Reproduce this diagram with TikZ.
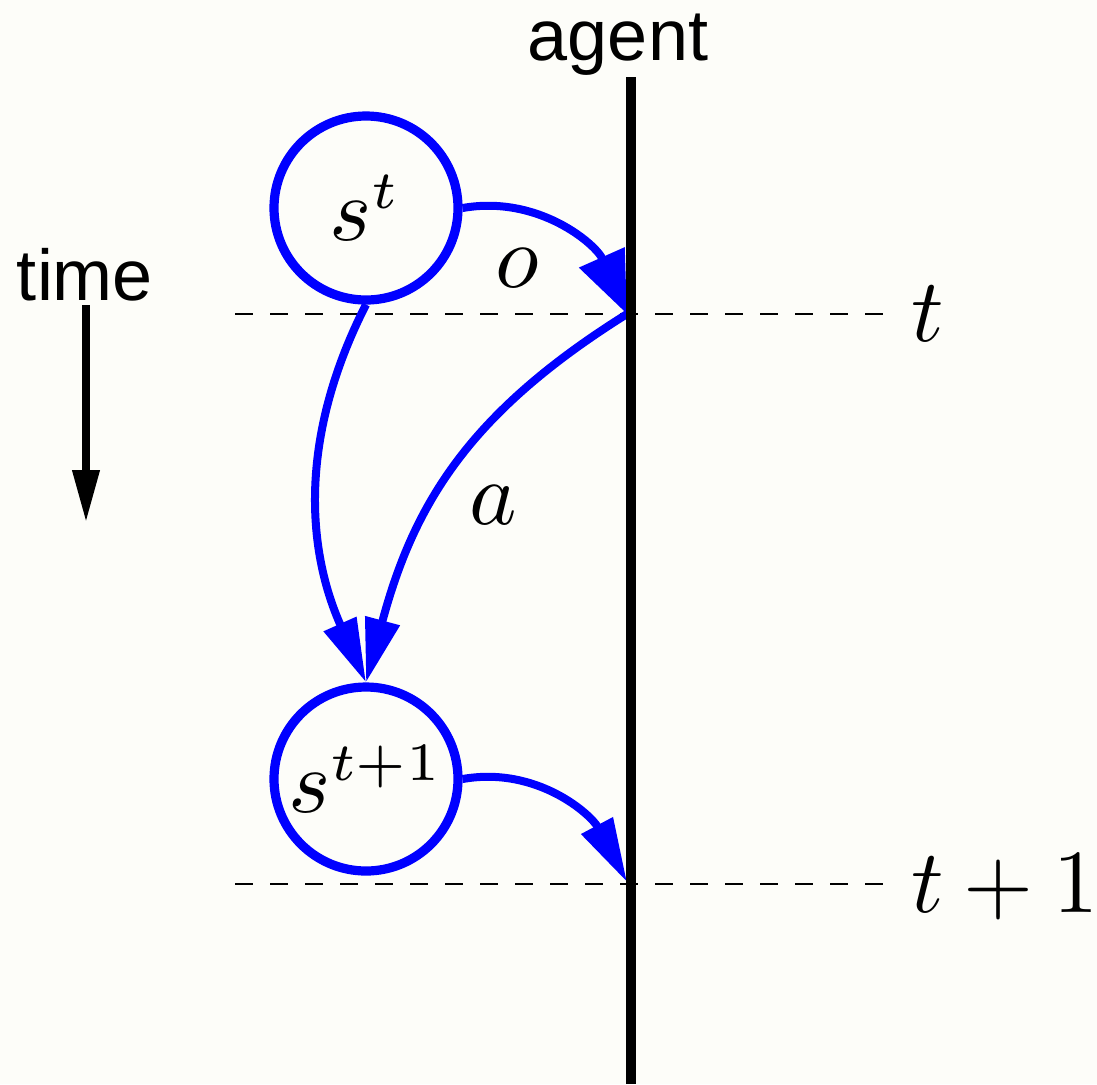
\documentclass[tikz,border=0pt]{standalone}
\usepackage{fontspec}
\newfontfamily\wordfont{Liberation Sans}
\usetikzlibrary{positioning, arrows.meta}
\DeclareMathSizes{10}{10}{6}{5}
\definecolor{paper}{RGB}{253,253,249}
\newcommand{\bigmath}[1]{\scalebox{4.5}{$#1$}}
\tikzset{
    state node/.style={circle, draw=blue, line width=4.6pt, minimum size=92pt, inner sep=0pt},
    math label/.style={inner sep=0pt},
    word label/.style={inner sep=0pt, font=\wordfont\fontsize{36}{43}\selectfont},
    flow edge/.style={color=blue, line width=4pt, -{Triangle[length=32pt, width=17pt]}},
    level line/.style={line width=1.3pt, dash pattern=on 9pt off 8.5pt},
    agent line/.style={line width=4.8pt},
}

\begin{document}
\begin{tikzpicture}[x=0.5pt, y=0.5pt]
            \fill[paper] (0,0) rectangle (1097,-1084);
            \useasboundingbox (0,0) rectangle (1097,-1084);
            % states
            \node[state node] (st) at (366,-208) {\bigmath{s^t}};
            \node[state node] (st1) at (366,-779) {\bigmath{s^{t+1}}};
            % agent and time levels
            \coordinate (agent top) at (631,-77);
            \coordinate (agent bottom) at (631,-1084);
            \node[word label, anchor=base] (agent) at (618,-60) {agent};
            \coordinate (lvl t start) at (235,-314);
            \coordinate (lvl t end) at (885,-314);
            \coordinate (lvl t1 start) at (235,-884);
            \coordinate (lvl t1 end) at (885,-884);
            \coordinate (agt) at (627,-314);
            \coordinate (agt1) at (627,-882);
            \node[math label, anchor=base] (t lbl) at (928,-341) {\bigmath{t}};
            \node[math label, anchor=base] (t1 lbl) at (1005,-912) {\bigmath{t+1}};
            \node[word label] (time) at (85,-275) {time};
            \coordinate (time top) at (86,-305);
            \coordinate (time end) at (86,-522);
            \draw[level line] (lvl t start) -- (lvl t end);
            \draw[level line] (lvl t1 start) -- (lvl t1 end);
            \draw[line width=3.6pt, -{Triangle[length=26pt, width=13pt]}] (time top) -- (time end);
            % flows
            \draw[flow edge, -{Triangle[length=31pt, width=24pt]}] (st.east) to[out=10, in=114] (agt);
            \draw[flow edge] (st.south) to[out=243, in=114] (st1.north);
            \draw[flow edge] (agt) to[out=212, in=75, looseness=1.05] (st1.north);
            \draw[flow edge] (st1.east) to[out=10, in=118] (agt1);
            \node[math label] (o lbl) at (517,-268) {\bigmath{o}};
            \node[math label] (a lbl) at (493,-505) {\bigmath{a}};
            \draw[agent line] (agent top) -- (agent bottom);
        \end{tikzpicture}
\end{document}
